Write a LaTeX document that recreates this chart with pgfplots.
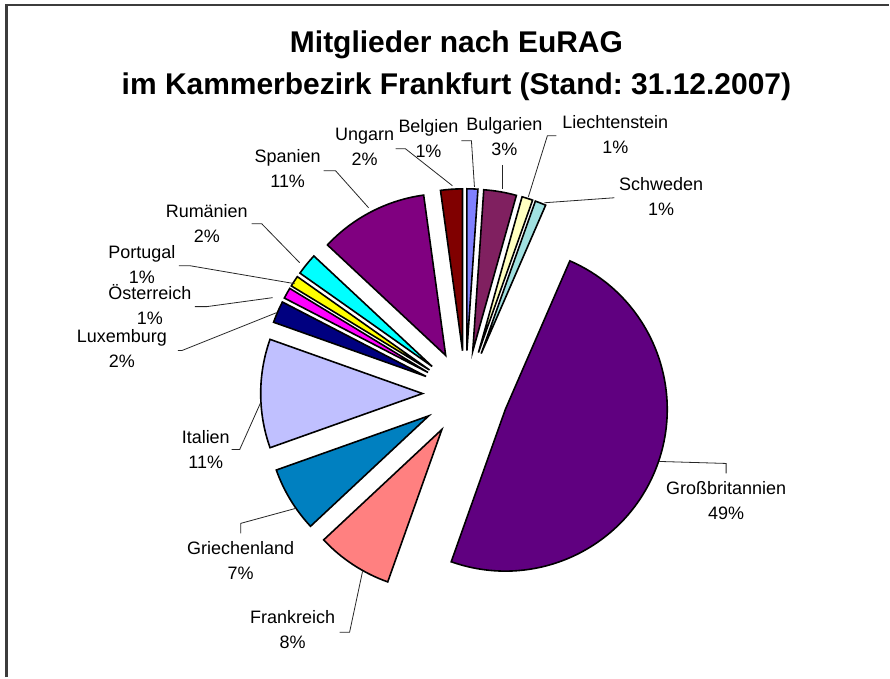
\documentclass[border=0pt]{standalone}
\usepackage{pgfplots}
\pgfplotsset{compat=1.18}
\usepackage{pgfplotstable}
\usepackage{fontspec}
\setmainfont{Liberation Sans}
\frenchspacing

\definecolor{cBE}{RGB}{128,128,255}
\definecolor{cBG}{RGB}{128,32,96}
\definecolor{cLI}{RGB}{255,255,192}
\definecolor{cSE}{RGB}{160,224,224}
\definecolor{cGB}{RGB}{96,0,128}
\definecolor{cFR}{RGB}{255,128,128}
\definecolor{cGR}{RGB}{0,128,192}
\definecolor{cIT}{RGB}{192,192,255}
\definecolor{cLU}{RGB}{0,0,128}
\definecolor{cAT}{RGB}{255,0,255}
\definecolor{cPT}{RGB}{255,255,0}
\definecolor{cRO}{RGB}{0,255,255}
\definecolor{cES}{RGB}{128,0,128}
\definecolor{cHU}{RGB}{128,0,0}
\definecolor{frame}{RGB}{60,60,60}

% members per country (clockwise from 12 o'clock)
\pgfplotstableread[col sep=comma]{
country,count,col
Belgien,1,cBE
Bulgarien,3,cBG
Liechtenstein,1,cLI
Schweden,1,cSE
Grossbritannien,45,cGB
Frankreich,7,cFR
Griechenland,6,cGR
Italien,10,cIT
Luxemburg,2,cLU
Oesterreich,1,cAT
Portugal,1,cPT
Rumaenien,2,cRO
Spanien,10,cES
Ungarn,2,cHU
}\piedata

\begin{document}
\begin{tikzpicture}
\begin{axis}[width=667.5pt, height=508.5pt, scale only axis,
  xmin=0, xmax=890, ymin=0, ymax=678, hide axis, clip=false]
\path (axis cs:0,0) rectangle (axis cs:890,678);
% frame (top and left edges)
\draw[frame, line width=1.6pt, line cap=butt] (axis cs:6.5,0) -- (axis cs:6.5,673) -- (axis cs:890,673);
% title
\node[font=\fontsize{22.5}{31.5}\selectfont\bfseries, align=center] at (axis cs:457,612)
  {Mitglieder nach EuRAG\\im Kammerbezirk Frankfurt (Stand: 31.12.2007)};
% pie slices
\def\total{92}
\def\cum{0}
\def\pcx{466}
\def\pcy{284}
\pgfplotsforeachungrouped \i in {0,...,13}{%
  \pgfplotstablegetelem{\i}{count}\of\piedata \let\sliceval\pgfplotsretval
  \pgfplotstablegetelem{\i}{col}\of\piedata \let\slicecol\pgfplotsretval
  \pgfmathsetmacro\angA{90-(\cum/\total)*360}%
  \pgfmathsetmacro\angB{90-((\cum+\sliceval)/\total)*360}%
  \pgfmathsetmacro\angM{(\angA+\angB)/2}%
  \pgfmathsetmacro\ox{\pcx+43*cos(\angM)}%
  \pgfmathsetmacro\oy{\pcy+43*sin(\angM)}%
  \edef\temp{\noexpand\filldraw[fill=\slicecol, draw=black, line width=1.2pt]
    (axis cs:\ox,\oy) -- ++(\angA:121.5pt) arc[start angle=\angA, end angle=\angB, radius=121.5pt] -- cycle;}%
  \temp
  \pgfmathsetmacro\cum{\cum+\sliceval}%
}
% leader lines
\begin{scope}[line width=0.6pt, black!85]
\draw (axis cs:396,529) -- (axis cs:406,529) -- (axis cs:453,492);
\draw (axis cs:462,537) -- (axis cs:472,537) -- (axis cs:475,491);
\draw (axis cs:503,513) -- (axis cs:503,489);
\draw (axis cs:324,507) -- (axis cs:336,507) -- (axis cs:369,470);
\draw (axis cs:557,542) -- (axis cs:548,542) -- (axis cs:529,481);
\draw (axis cs:615,480) -- (axis cs:545,475);
\draw (axis cs:252,454) -- (axis cs:262,454) -- (axis cs:300,415);
\draw (axis cs:179,412) -- (axis cs:190,412) -- (axis cs:295,394);
\draw (axis cs:195,371) -- (axis cs:207,371) -- (axis cs:273,380);
\draw (axis cs:178,327) -- (axis cs:182,327) -- (axis cs:277,365);
\draw (axis cs:232,228) -- (axis cs:240,228) -- (axis cs:261,275);
\draw (axis cs:241,144) -- (axis cs:241,154) -- (axis cs:296,169);
\draw (axis cs:340,45) -- (axis cs:350,45) -- (axis cs:363,106);
\draw (axis cs:727,204) -- (axis cs:727,214) -- (axis cs:660,216);
\end{scope}
% labels
\begin{scope}[every node/.style={font=\fontsize{13.5}{18.75}\selectfont, align=center, inner sep=0pt}]
\node at (axis cs:365,531) {Ungarn\\2\%};
\node at (axis cs:429,539) {Belgien\\1\%};
\node at (axis cs:505,541) {Bulgarien\\3\%};
\node at (axis cs:288,509) {Spanien\\11\%};
\node at (axis cs:616,543) {Liechtenstein\\1\%};
\node at (axis cs:662,481) {Schweden\\1\%};
\node at (axis cs:207,454) {Rumänien\\2\%};
\node at (axis cs:142,413) {Portugal\\1\%};
\node at (axis cs:150,373) {Österreich\\1\%};
\node at (axis cs:122,329) {Luxemburg\\2\%};
\node at (axis cs:206,228) {Italien\\11\%};
\node at (axis cs:241,117) {Griechenland\\7\%};
\node at (axis cs:293,48) {Frankreich\\8\%};
\node at (axis cs:727,177) {Großbritannien\\49\%};
\end{scope}
\end{axis}
\end{tikzpicture}
\end{document}
